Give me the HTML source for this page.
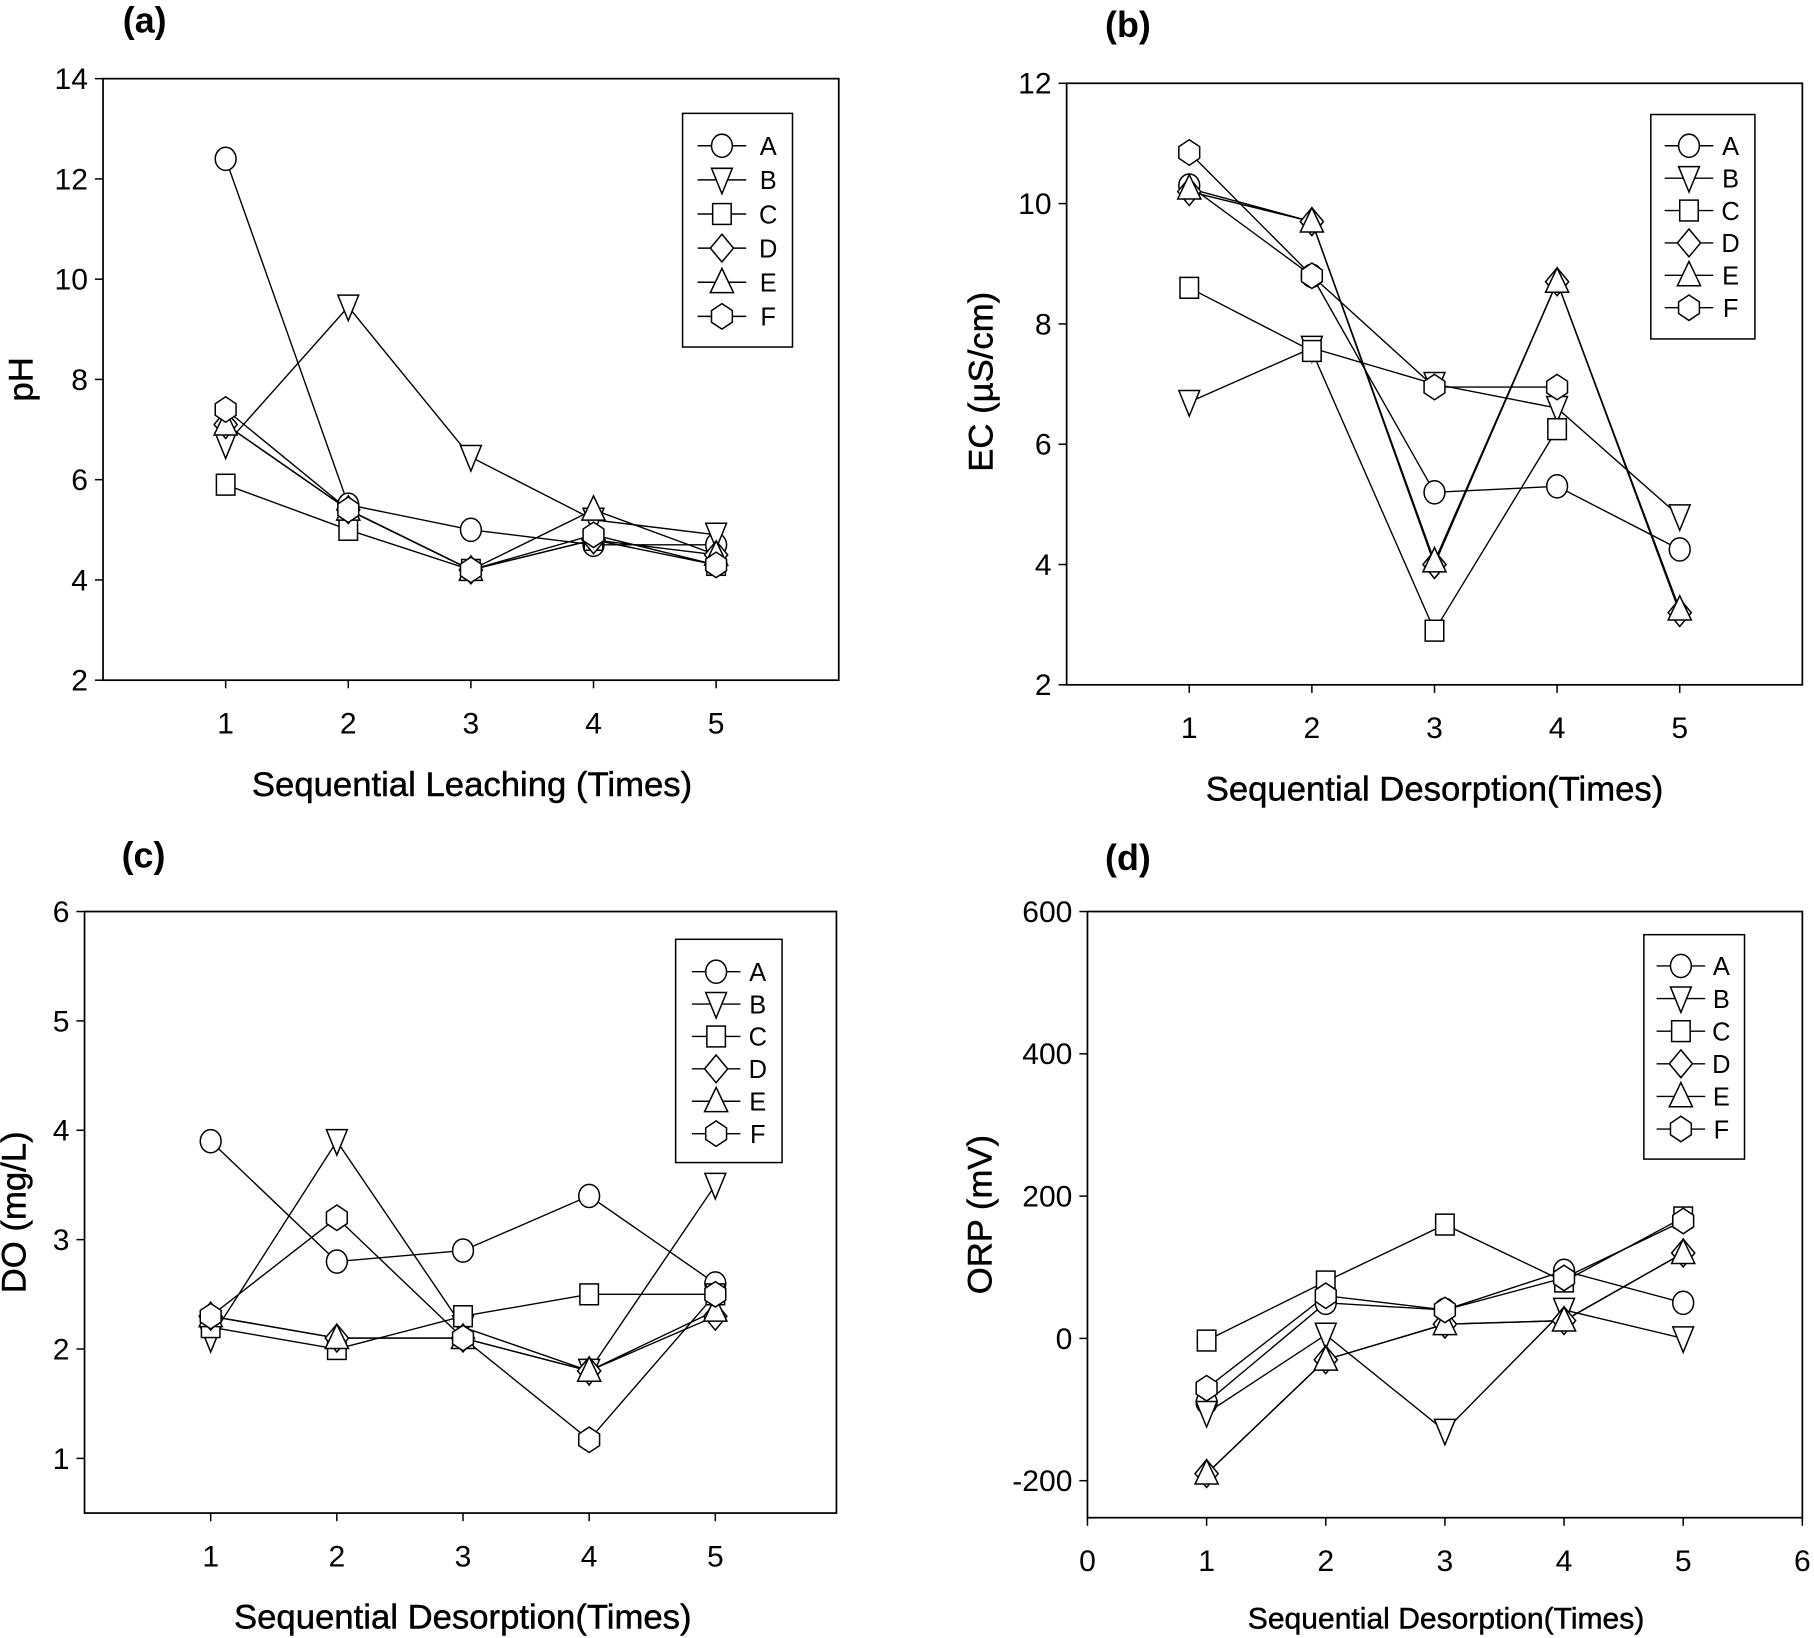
<!DOCTYPE html>
<html><head><meta charset="utf-8"><style>
html,body{margin:0;padding:0;background:#fff;}
svg{display:block;}
text{font-family:"Liberation Sans",sans-serif;fill:#000;}
</style></head><body>
<svg id="s" width="1814" height="1638" viewBox="0 0 1568 1416" xmlns="http://www.w3.org/2000/svg"></svg>
<script>
const S=document.getElementById('s');let h='';
function mk(t,x,y){const r=9,ry=10;let s='fill="#fff" stroke="#000" stroke-width="1.3"';
 if(t=='A')return `<ellipse cx="${x}" cy="${y}" rx="${r}" ry="${ry}" ${s}/>`;
 if(t=='B')return `<polygon points="${x-r},${y-ry} ${x+r},${y-ry} ${x},${y+ry+2}" ${s}/>`;
 if(t=='C')return `<rect x="${x-r+1}" y="${y-ry+1}" width="${2*r-2}" height="${2*ry-2}" ${s}/>`;
 if(t=='D')return `<polygon points="${x},${y-ry-2} ${x+r+1},${y} ${x},${y+ry+2} ${x-r-1},${y}" ${s}/>`;
 if(t=='E')return `<polygon points="${x},${y-ry-2} ${x+r+1},${y+ry-1} ${x-r-1},${y+ry-1}" ${s}/>`;
 return `<polygon points="${x},${y-ry-1} ${x+r},${y-ry/2} ${x+r},${y+ry/2} ${x},${y+ry+1} ${x-r},${y+ry/2} ${x-r},${y-ry/2}" ${s}/>`;}
function panel(p){
 const X=v=>p.x0+(v-p.xmin)*(p.x1-p.x0)/(p.xmax-p.xmin);
 const Y=v=>p.y1-(v-p.ymin)*(p.y1-p.y0)/(p.ymax-p.ymin);
 h+=`<rect x="${p.x0}" y="${p.y0}" width="${p.x1-p.x0}" height="${p.y1-p.y0}" fill="none" stroke="#000" stroke-width="1.5"/>`;
 p.yt.forEach(v=>{const y=Y(v);h+=`<line x1="${p.x0-7}" y1="${y}" x2="${p.x0}" y2="${y}" stroke="#000" stroke-width="1.3"/><text x="${p.x0-13}" y="${y+9}" font-size="26" text-anchor="end">${v}</text>`;});
 p.xt.forEach(v=>{const x=X(v);h+=`<line x1="${x}" y1="${p.y1}" x2="${x}" y2="${p.y1+7}" stroke="#000" stroke-width="1.3"/><text x="${x}" y="${p.y1+46}" font-size="26" text-anchor="middle">${v}</text>`;});
 const keys=['A','B','C','D','E','F'];
 keys.forEach(k=>{const d=p.d[k];let pts=d.map((v,i)=>X(i+1)+','+Y(v)).join(' ');h+=`<polyline points="${pts}" fill="none" stroke="#000" stroke-width="1.2"/>`;});
 keys.forEach(k=>{p.d[k].forEach((v,i)=>{h+=mk(k,X(i+1),Y(v));});});
 const L=p.leg;h+=`<rect x="${L.x0}" y="${L.y0}" width="${L.x1-L.x0}" height="${L.y1-L.y0}" fill="#fff" stroke="#000" stroke-width="1.3"/>`;
 keys.forEach((k,i)=>{const y=L.ys+i*L.dy;h+=`<line x1="${L.mx-21}" y1="${y}" x2="${L.mx+21}" y2="${y}" stroke="#000" stroke-width="1.2"/>`+mk(k,L.mx,y)+`<text x="${L.lx}" y="${y+8}" font-size="22" text-anchor="middle">${k}</text>`;});
 h+=`<text x="${p.tx}" y="${p.ty}" font-size="31" font-weight="bold" text-anchor="middle">${p.t}</text>`;
 h+=`<text x="${p.xlx}" y="${p.xly}" font-size="${p.xlf||30}" text-anchor="middle" stroke="#000" stroke-width="0.4">${p.xl}</text>`;
 h+=`<text transform="translate(${p.ylx},${p.yly}) rotate(-90)" font-size="30" text-anchor="middle" stroke="#000" stroke-width="0.4">${p.yl}</text>`;
}
panel({x0:89,x1:725,y0:68,y1:588,xmin:0,xmax:6,ymin:2,ymax:14,yt:[2,4,6,8,10,12,14],xt:[1,2,3,4,5],
 d:{A:[12.4,5.5,5.0,4.7,4.7],B:[6.7,9.45,6.45,5.2,4.9],C:[5.9,5.0,4.2,4.8,4.3],D:[7.1,5.4,4.2,4.8,4.5],E:[7.1,5.4,4.2,5.4,4.5],F:[7.4,5.4,4.2,4.9,4.3]},
 leg:{x0:590,x1:685,y0:98,y1:300,ys:126,dy:29.5,mx:624,lx:664},t:'(a)',tx:125,ty:28,xl:'Sequential Leaching (Times)',xlx:408,xly:688,yl:'pH',ylx:28,yly:328});
panel({x0:922,x1:1558,y0:72,y1:592,xmin:0,xmax:6,ymin:2,ymax:12,yt:[2,4,6,8,10,12],xt:[1,2,3,4,5],
 d:{A:[10.3,8.8,5.2,5.3,4.25],B:[6.7,7.6,7.0,6.6,4.8],C:[8.6,7.55,2.9,6.25],D:[10.2,9.7,4.0,8.7,3.2],E:[10.25,9.7,4.05,8.7,3.25],F:[10.85,8.8,6.95,6.95]},
 leg:{x0:1427,x1:1517,y0:99,y1:293,ys:126,dy:28,mx:1460,lx:1496},t:'(b)',tx:975,ty:32,xl:'Sequential Desorption(Times)',xlx:1240,xly:692,yl:'EC (µS/cm)',ylx:858,yly:330});
panel({x0:73,x1:723,y0:788,y1:1308,xmin:0,xmax:5.96,ymin:0.5,ymax:6,yt:[1,2,3,4,5,6],xt:[1,2,3,4,5],
 d:{A:[3.9,2.8,2.9,3.4,2.6],B:[2.1,3.9,2.2,1.8,3.5],C:[2.2,2.0,2.3,2.5,2.5],D:[2.3,2.1,2.1,1.8,2.3],E:[2.3,2.1,2.1,1.8,2.35],F:[2.3,3.2,2.1,1.17,2.5]},
 leg:{x0:584,x1:676,y0:812,y1:1005,ys:840,dy:28,mx:619,lx:655},t:'(c)',tx:124,ty:750,xl:'Sequential Desorption(Times)',xlx:400,xly:1408,yl:'DO (mg/L)',ylx:22,yly:1048});
panel({x0:940,x1:1558,y0:788,y1:1312,xmin:0,xmax:6,ymin:-252,ymax:600,yt:[-200,0,200,400,600],xt:[0,1,2,3,4,5,6],
 d:{A:[-90,50,40,95,50],B:[-105,5,-130,40,0],C:[-3,80,160,80,170],D:[-190,-30,20,25,120],E:[-190,-30,20,25,120],F:[-70,60,40,85,165]},
 leg:{x0:1421,x1:1508,y0:808,y1:1002,ys:835,dy:28.2,mx:1453,lx:1488},t:'(d)',tx:975,ty:752,xl:'Sequential Desorption(Times)',xlx:1250,xly:1408,xlf:26,yl:'ORP (mV)',ylx:857,yly:1050});
S.innerHTML=h;
</script>
</body></html>
